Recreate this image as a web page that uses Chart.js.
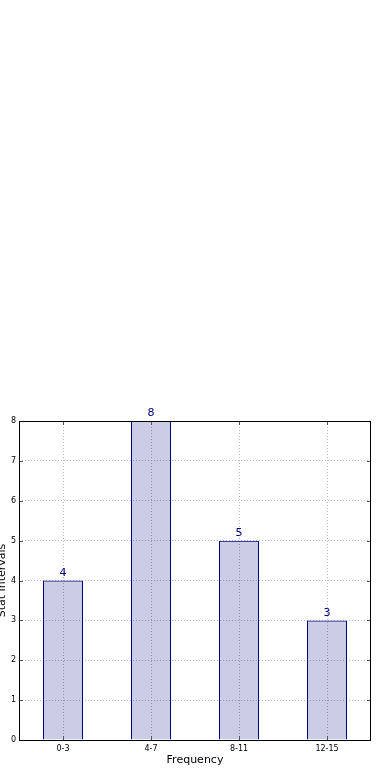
<!DOCTYPE html>
<html>
<head>
<meta charset="utf-8">
<script src="https://cdn.jsdelivr.net/npm/chart.js@4"></script>
<style>
html,body{margin:0;padding:0;background:#fff;overflow:hidden;width:390px;height:780px;}
#c{position:absolute;left:-8px;top:0;}
</style>
</head>
<body>
<canvas id="c" width="398" height="780"></canvas>
<script>
const categories = ['0-3', '4-7', '8-11', '12-15'];
const values = [4, 8, 5, 3];
const yTicks = [0, 1, 2, 3, 4, 5, 6, 7, 8];

const FONT = 'DejaVu Sans';

const framePlugin = {
  id: 'frame',
  afterDatasetsDraw(chart) {
    const {ctx, chartArea: a} = chart;
    const meta = chart.getDatasetMeta(0);
    ctx.save();
    // value labels
    ctx.fillStyle = '#000080';
    ctx.font = '11px "' + FONT + '"';
    ctx.textAlign = 'center';
    ctx.textBaseline = 'bottom';
    meta.data.forEach((bar, i) => {
      ctx.fillText(String(values[i]), bar.x, bar.y - 2);
    });
    // inside tick marks
    ctx.strokeStyle = '#555';
    ctx.lineWidth = 1;
    const ys = chart.scales.y, xs = chart.scales.x;
    yTicks.forEach(v => {
      const p = Math.round(ys.getPixelForValue(v)) + 0.5;
      ctx.beginPath();
      ctx.moveTo(a.left, p); ctx.lineTo(a.left + 4, p);
      ctx.moveTo(a.right, p); ctx.lineTo(a.right - 4, p);
      ctx.stroke();
    });
    categories.forEach((c, i) => {
      const p = Math.round(xs.getPixelForValue(i)) + 0.5;
      ctx.beginPath();
      ctx.moveTo(p, a.top); ctx.lineTo(p, a.top + 4);
      ctx.moveTo(p, a.bottom); ctx.lineTo(p, a.bottom - 4);
      ctx.stroke();
    });
    // frame
    ctx.strokeStyle = '#000';
    ctx.strokeRect(Math.round(a.left) + 0.5, Math.round(a.top) + 0.5,
                   Math.round(a.right - a.left) - 1, Math.round(a.bottom - a.top));
    ctx.restore();
  }
};

new Chart(document.getElementById('c'), {
  type: 'bar',
  data: {
    labels: categories,
    datasets: [{
      data: values,
      backgroundColor: 'rgba(0,0,128,0.2)',
      borderColor: '#000080',
      borderWidth: 1,
      barThickness: 40,
      inflateAmount: 0
    }]
  },
  options: {
    responsive: false,
    animation: false,
    events: [],
    layout: {padding: {top: 421, right: 19, bottom: 9, left: 0}},
    plugins: {legend: {display: false}, tooltip: {enabled: false}},
    scales: {
      x: {
        offset: true,
        grid: {offset: false, color: '#b8b8b8', drawTicks: false},
        border: {display: false, dash: [1, 2]},
        ticks: {color: '#000', font: {family: FONT, size: 8}, padding: 4, maxRotation: 0},
        title: {display: true, text: 'Frequency', color: '#000', font: {family: FONT, size: 11}},
        afterFit(s) { s.height = 31; }
      },
      y: {
        min: 0, max: 8,
        afterBuildTicks(s) { s.ticks = yTicks.map(v => ({value: v})); },
        grid: {color: '#b8b8b8', drawTicks: false},
        border: {display: false, dash: [1, 2]},
        ticks: {color: '#000', font: {family: FONT, size: 8}, padding: 3},
        title: {display: true, text: 'Stat Intervals', color: '#000', font: {family: FONT, size: 11}},
        afterFit(s) { s.width = 27; }
      }
    }
  },
  plugins: [framePlugin]
});
</script>
</body>
</html>
